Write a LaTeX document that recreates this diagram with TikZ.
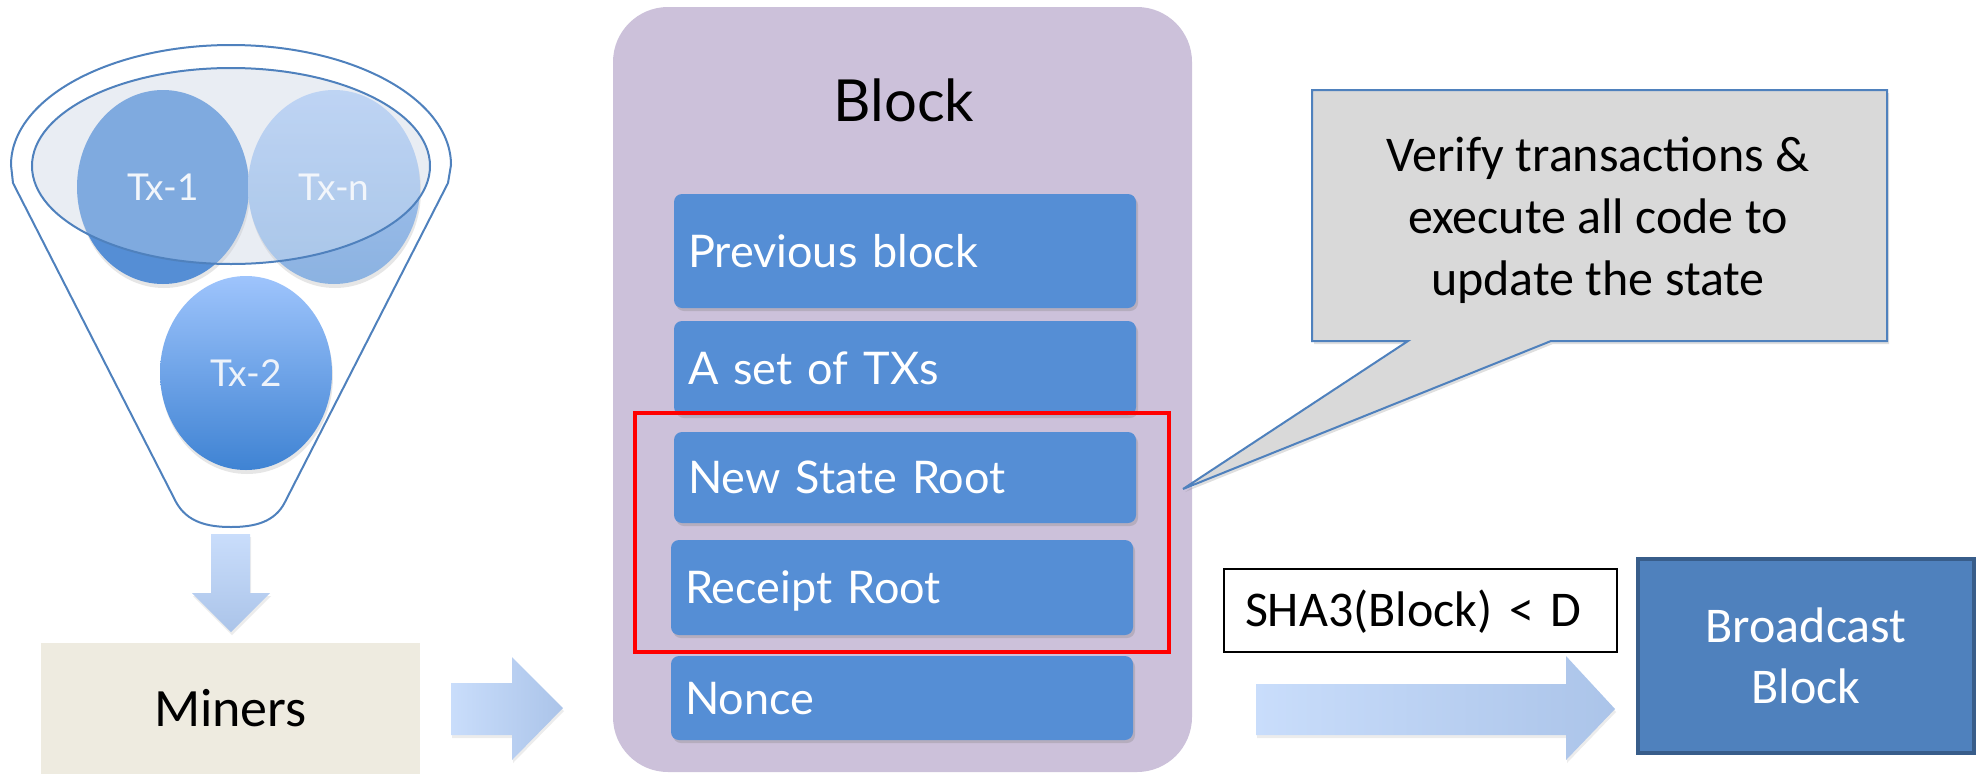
\documentclass[tikz,border=0pt]{standalone}
\usepackage{fontspec}
\newfontfamily\latof{Lato}
\newfontfamily\carl{Carlito}
\usetikzlibrary{shapes.geometric,shadows}
\definecolor{fblue}{HTML}{4F81BD}
\definecolor{bdark}{HTML}{385D8A}
\definecolor{barc}{HTML}{558ED5}
\definecolor{blockc}{HTML}{CCC1DA}
\definecolor{minersc}{HTML}{EEEBE0}
\definecolor{calloutc}{HTML}{D9D9D9}
\definecolor{tx1c}{HTML}{558ED5}
\definecolor{txnTop}{HTML}{A9C6F0}
\definecolor{txnBot}{HTML}{8BB2E1}
\definecolor{tx2Top}{HTML}{9EC4FC}
\definecolor{tx2Bot}{HTML}{3F83D3}
\definecolor{arrA}{HTML}{C9DDFB}
\definecolor{arrB}{HTML}{ABC4E9}
\definecolor{ellfill}{HTML}{E2E7F0}
\definecolor{txtext}{HTML}{EEF3FA}
\tikzset{
  txc/.style={ellipse, minimum width=172pt, minimum height=194pt, inner sep=0pt,
    font=\latof\fontsize{37}{44}\selectfont, text=txtext,
    drop shadow={shadow xshift=1pt, shadow yshift=-4pt, opacity=0.2}},
  bar/.style={fill=barc, rounded corners=8pt, text=white,
    font=\latof\fontsize{45}{54}\selectfont, text width=434pt, inner xsep=14pt,
    inner ysep=0pt, align=left, text height=32pt, text depth=0pt,
    drop shadow={shadow xshift=2pt, shadow yshift=-3pt, opacity=0.3}},
  blockarrow/.style={drop shadow={shadow xshift=1pt, shadow yshift=-3pt, opacity=0.15}},
}
\begin{document}
\begin{tikzpicture}[x=1pt,y=-1pt]
\useasboundingbox (0,0) rectangle (1980,774);

% funnel
\draw[fblue, line width=2pt] (13,183) -- (11,165)
  arc[start angle=180, end angle=360, x radius=220, y radius=120]
  -- (448,183) -- (285,502) .. controls (275,522) and (255,527) .. (231,527)
  .. controls (207,527) and (187,522) .. (176,502) -- cycle;
\fill[ellfill] (231,166) ellipse [x radius=199, y radius=98];

\node[txc, fill=tx1c] (tx1) at (163,187) {Tx-1};
\node[txc, top color=txnTop, bottom color=txnBot] (txn) at (334,187) {Tx-n};
\node[txc, top color=tx2Top, bottom color=tx2Bot] (tx2) at (246,373) {Tx-2};

\draw[fill=white, fill opacity=0.25, draw=fblue, line width=2pt] (231,166) ellipse [x radius=199, y radius=98];

% down arrow
\shade[blockarrow, top color=arrA, bottom color=arrB] (211,534) -- (250,534) -- (250,593) -- (270,593) -- (231,632) -- (192,593) -- (211,593) -- cycle;

% miners
\node[fill=minersc, minimum width=379pt, minimum height=131pt, inner sep=0pt,
  font=\carl\fontsize{54}{64}\selectfont] (miners) at (230.5,708.5) {Miners};

% arrow to block
\shade[blockarrow, left color=arrA, right color=arrB] (451,683) -- (512,683) -- (512,657) -- (563,708) -- (512,760) -- (512,735) -- (451,735) -- cycle;

% block
\node[fill=blockc, rounded corners=55pt, minimum width=579pt, minimum height=765pt, inner sep=0pt] (blockbox) at (902.5,389.5) {};
\node[font=\latof\fontsize{58}{70}\selectfont, anchor=base, inner sep=0pt] (blocktitle) at (904,121) {Block};

\node[bar, minimum height=114pt] (prev) at (905,251) {Previous block};
\node[bar, minimum height=94pt] (txs) at (905,368) {A set of TXs};
\node[bar, minimum height=91pt] (nsr) at (905,477.5) {New State Root};
\node[bar, minimum height=95pt] (rr) at (902,587.5) {Receipt Root};
\node[bar, minimum height=84pt] (nonce) at (902,698) {Nonce};

\node[draw=red, line width=4pt, minimum width=534pt, minimum height=239pt, inner sep=0pt] (redbox) at (902,532.5) {};

% callout
\coordinate (tip) at (1183,489);
\draw[fill=calloutc, draw=fblue, line width=2pt,
  drop shadow={shadow xshift=2pt, shadow yshift=-3pt, opacity=0.25}]
  (1312,90) -- (1887,90) -- (1887,341) -- (1551,341) -- (tip) -- (1408,341) -- (1312,341) -- cycle;
\node[font=\carl\fontsize{50}{62}\selectfont, align=center, inner sep=0pt] (callout) at (1598,220)
  {Verify transactions \&\\execute all code to\\update the state};

% SHA3
\node[draw=black, line width=2pt, fill=white, minimum height=83pt, text width=351pt,
  inner xsep=21pt, inner ysep=0pt, align=left, text height=32pt, text depth=0pt,
  font=\carl\fontsize{50}{60}\selectfont] (sha) at (1420.5,610.5) {SHA3(Block) < D};

% arrow to broadcast
\shade[blockarrow, left color=arrA, right color=arrB] (1256,684) -- (1566,684) -- (1566,656) -- (1615,709) -- (1566,760) -- (1566,735) -- (1256,735) -- cycle;

% broadcast
\node[fill=fblue, draw=bdark, line width=4pt, minimum width=336pt, minimum height=194pt,
  text=white, font=\carl\fontsize{50}{61}\selectfont, align=center, inner sep=0pt] (bcast) at (1806,656) {Broadcast\\Block};
\end{tikzpicture}
\end{document}
